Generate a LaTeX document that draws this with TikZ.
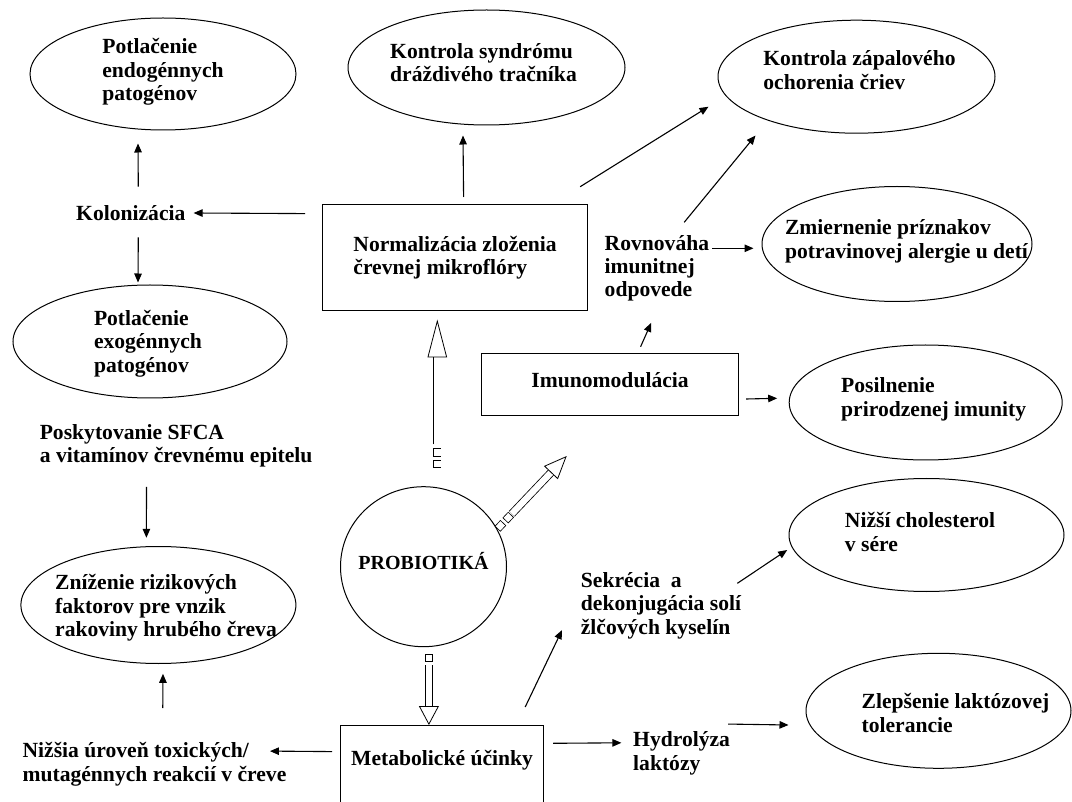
\documentclass[tikz,border=0pt]{standalone}
\usepackage{fontspec}
\setmainfont{Liberation Serif}
\usetikzlibrary{arrows.meta,shapes.geometric,calc}
\newcommand{\lbfont}{\bfseries\fontsize{21.6}{23.4}\selectfont}

\begin{document}
\begin{tikzpicture}[x=1pt,y=-1pt,
  oval/.style={draw,ellipse,line width=1pt,inner sep=0pt},
  box/.style={draw,rectangle,line width=1.2pt,anchor=north west,align=left,font=\lbfont},
  txt/.style={align=left,inner sep=0pt,font=\lbfont},
  arr/.style={-{Triangle[length=9pt,width=7.5pt]},line width=1.1pt},
  hollow/.style={double=white,double distance=6.4pt,line width=0.8pt},
  hollowtail/.style={hollow,line cap=rect,dash pattern=on 0.5pt off 11pt}
]
  \useasboundingbox (0,0) rectangle (1072,802);

  % ovals with outcomes
  \node[oval,minimum width=266pt,minimum height=112pt] (endo) at (163,74) {};
  \node[txt] (endoT) at ([yshift=2pt]endo) {Potlačenie\\endogénnych\\patogénov};
  \node[oval,minimum width=277pt,minimum height=115pt] (ibs) at (486.5,67.5) {};
  \node[txt] (ibsT) at ([xshift=-3pt,yshift=4.7pt]ibs) {Kontrola syndrómu\\dráždivého tračníka};
  \node[oval,minimum width=277pt,minimum height=113pt] (ibd) at (856.5,76.7) {};
  \node[txt] (ibdT) at ([xshift=3pt,yshift=6.4pt]ibd) {Kontrola zápalového\\ochorenia čriev};
  \node[oval,minimum width=270pt,minimum height=115pt] (allergy) at (897,244) {};
  \node[txt] (allergyT) at ([xshift=9.5pt,yshift=2.8pt]allergy) {Zmiernenie príznakov\\potravinovej alergie u detí};
  \node[oval,minimum width=273pt,minimum height=115pt] (innate) at (925.7,402.5) {};
  \node[txt] (innateT) at ([xshift=8pt,yshift=3pt]innate) {Posilnenie\\prirodzenej imunity};
  \node[oval,minimum width=275pt,minimum height=113pt] (chol) at (926.5,535) {};
  \node[txt] (cholT) at ([xshift=-6.5pt,yshift=3pt]chol) {Nižší cholesterol\\v sére};
  \node[oval,minimum width=265pt,minimum height=115pt] (lact) at (938.5,710.8) {};
  \node[txt] (lactT) at ([xshift=17pt,yshift=-2pt]lact) {Zlepšenie laktózovej\\tolerancie};
  \node[oval,minimum width=274pt,minimum height=113pt] (exo) at (150,341.5) {};
  \node[txt] (exoT) at ([xshift=-2pt,yshift=-2pt]exo) {Potlačenie\\exogénnych\\patogénov};
  \node[oval,minimum width=275pt,minimum height=117pt] (cancer) at (158.4,605) {};
  \node[txt] (cancerT) at ([xshift=7.6pt,yshift=-3pt]cancer) {Zníženie rizikových\\faktorov pre vnzik\\rakoviny hrubého čreva};

  % centre
  \node[oval,minimum width=166pt,minimum height=160pt] (probio) at (423.5,566.7) {};
  \node[txt,font=\bfseries\fontsize{20}{22}\selectfont] (probioT) at ([yshift=6pt]probio) {PROBIOTIKÁ};

  % boxes
  \node[box,minimum width=265pt,minimum height=106pt] (norm) at (322,204) {Normalizácia zloženia\\črevnej mikroflóry};
  \node[box,minimum width=257pt,minimum height=62pt,text height=15pt,text depth=10pt] (imun) at (481,353.3) {Imunomodulácia};
  \node[box,minimum width=203pt,inner ysep=25pt,text height=15pt,text depth=15pt] (metab) at (340,725) {Metabolické účinky};

  % plain labels
  \node[txt,anchor=west] (kolon) at (76,213) {Kolonizácia};
  \node[txt,anchor=west] (rovn) at (604.5,268.2) {Rovnováha\\imunitnej\\odpovede};
  \node[txt,anchor=west] (posk) at (39.6,445.8) {Poskytovanie SFCA\\a vitamínov črevnému epitelu};
  \node[txt,anchor=west] (nizsia) at (22.4,764.1) {Nižšia úroveň toxických/\\mutagénnych reakcií v čreve};
  \node[txt,anchor=west] (sekr) at (580.7,605.8) {Sekrécia~ a\\dekonjugácia solí\\žlčových kyselín};
  \node[txt,anchor=west] (hydro) at (633,753.3) {Hydrolýza\\laktózy};

  % thin arrows
  \draw[arr] ([xshift=7.5pt,yshift=18.5pt]kolon.north) -- ([xshift=-25pt,yshift=-13pt]endo.south);
  \draw[arr] ([xshift=7.5pt,yshift=-16.5pt]kolon.south) -- ([xshift=-12pt,yshift=2pt]exo.north);
  \draw[arr] ([xshift=-17pt,yshift=44pt]norm.west) -- ([xshift=8pt]kolon.east);
  \draw[arr] ([xshift=8.5pt,yshift=7pt]norm.north) -- ([xshift=-23.5pt,yshift=-10pt]ibs.south);
  \draw[arr] ([xshift=-8pt,yshift=17.3pt]norm.north east) -- ([xshift=-9pt,yshift=-30pt]ibd.west);
  \draw[arr] ([xshift=27.3pt,yshift=12.5pt]rovn.north) -- ([xshift=-101pt,yshift=-1.8pt]ibd.south);
  \draw[arr] ([xshift=3pt,yshift=19.9pt]rovn.east) -- ([xshift=-8pt,yshift=-4.3pt]allergy.west);
  \draw[arr] ([xshift=30.5pt,yshift=6.6pt]imun.north) -- ([xshift=-5.7pt,yshift=-21.2pt]rovn.south);
  \draw[arr] ([xshift=7pt,yshift=-14.1pt]imun.east) -- ([xshift=-11.5pt,yshift=4.2pt]innate.west);
  \draw[arr] ([xshift=-29.6pt,yshift=-19.5pt]posk.south) -- ([xshift=-12pt,yshift=8.2pt]cancer.north);
  \draw[arr] ([xshift=8.3pt,yshift=34.2pt]nizsia.north) -- ([xshift=4.6pt,yshift=-9.8pt]cancer.south);
  \draw[arr] ([xshift=-8pt,yshift=14pt]metab.west) -- ([xshift=-16.6pt,yshift=13pt]nizsia.east);
  \draw[arr] ([xshift=-19pt,yshift=18pt]metab.north east) -- ([xshift=-18.7pt,yshift=-24.3pt]sekr.west);
  \draw[arr] ([xshift=-4pt,yshift=22.5pt]sekr.east) -- ([xshift=-1.3pt,yshift=-15pt]chol.west);
  \draw[arr] ([xshift=9pt,yshift=22.3pt]metab.east) -- ([xshift=-11.6pt,yshift=10.5pt]hydro.west);
  \draw[arr] ([xshift=-2pt,yshift=7.5pt]hydro.north east) -- ([xshift=-17pt,yshift=-14.2pt]lact.west);

  % hollow arrows out of the centre
  \coordinate (uptip) at ([xshift=-17.8pt,yshift=-8.3pt]norm.south);
  \draw[hollowtail] ($(probio.north -| uptip)!21.9pt!(uptip)$) -- ($(probio.north -| uptip)!34pt!(uptip)$);
  \draw[hollow,-{Triangle[open,length=38pt,width=19.5pt,line width=0.8pt]}]
    ($(probio.north -| uptip)!41.7pt!(uptip)$) -- (uptip);

  \coordinate (downtip) at ([xshift=-13.2pt]metab.north);
  \draw[hollowtail] ($(probio.south -| downtip)!10.5pt!(downtip)$) -- ($(probio.south -| downtip)!11pt!(downtip)$);
  \draw[hollow,-{Triangle[open,length=19pt,width=20pt,line width=0.8pt]}]
    ($(probio.south -| downtip)!18pt!(downtip)$) -- (downtip);

  \coordinate (diagtip) at (566.7,456);
  \draw[hollowtail] ($(probio.27)!4.2pt!(diagtip)$) -- ($(probio.27)!16pt!(diagtip)$);
  \draw[hollow,-{Triangle[open,length=23pt,width=19pt,line width=0.8pt]}]
    ($(probio.27)!21pt!(diagtip)$) -- (diagtip);
\end{tikzpicture}
\end{document}
